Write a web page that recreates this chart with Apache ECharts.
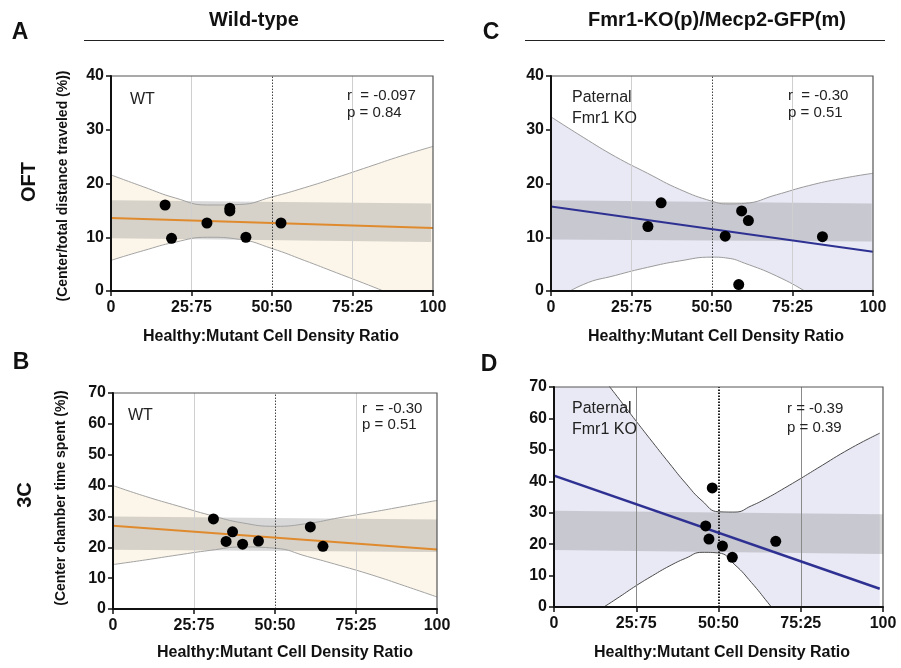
<!DOCTYPE html>
<html><head><meta charset="utf-8">
<script src="https://cdn.jsdelivr.net/npm/echarts@6/dist/echarts.min.js"></script>
<style>html,body{margin:0;padding:0;background:#fff}#c{width:901px;height:668px}</style>
</head><body><div id="c"></div>
<script>
// ---------- DATA ----------
const xTickValues = [0, 25, 50, 75, 100];
const xTickLabels = ['0', '25:75', '50:50', '75:25', '100'];

// Panel A (OFT, Wild-type)
const aPtsX = [16.8, 18.8, 29.8, 36.9, 36.9, 41.9, 52.8];
const aPtsY = [16.0, 9.8, 12.65, 15.4, 14.9, 10.0, 12.65];
const aCiX = [0, 10, 20, 30, 40, 50, 60, 70, 80, 90, 100];
const aCiUp = [21.6, 19.4, 17.3, 16.0, 16.1, 17.5, 19.2, 21.1, 23.1, 25.1, 26.9];
const aCiLo = [5.7, 7.5, 9.1, 10.0, 9.6, 7.9, 5.7, 3.4, 1.1, -1.3, -3.7];
const aFitX = [0, 100];
const aFitY = [13.6, 11.7];
const aBandX = [0, 99.4];
const aBandTop = [16.9, 16.3];
const aBandBot = [9.8, 9.1];

// Panel C (OFT, Fmr1-KO(p)/Mecp2-GFP(m))
const cPtsX = [30.1, 34.2, 54.1, 58.3, 59.2, 61.3, 84.3];
const cPtsY = [12.0, 16.4, 10.2, 1.2, 14.9, 13.1, 10.1];
const cCiX = [0, 10, 20, 30, 40, 50, 55, 60, 70, 80, 90, 100];
const cCiUp = [32.4, 28.6, 25.0, 21.9, 18.9, 16.7, 16.2, 16.3, 17.9, 19.6, 20.9, 21.9];
const cCiLo = [-2.2, 1.2, 2.9, 4.4, 5.6, 6.3, 6.1, 5.2, 2.8, -0.4, -4.0, -7.7];
const cFitX = [0, 100];
const cFitY = [15.7, 7.3];
const cBandX = [0, 99.6];
const cBandTop = [16.9, 16.3];
const cBandBot = [9.6, 9.2];

// Panel B (3C, Wild-type)
const bPtsX = [31.0, 34.9, 36.9, 40.0, 44.9, 60.9, 64.8];
const bPtsY = [29.2, 21.9, 25.0, 21.0, 22.0, 26.6, 20.3];
const bCiX = [0, 10, 20, 30, 40, 50, 60, 70, 80, 90, 100];
const bCiUp = [40.0, 36.5, 33.4, 30.4, 27.9, 26.8, 27.7, 29.6, 31.4, 33.3, 35.2];
const bCiLo = [14.4, 15.9, 17.5, 19.0, 20.1, 19.7, 17.0, 14.1, 11.0, 7.5, 3.9];
const bFitX = [0, 100];
const bFitY = [27.0, 19.3];
const bBandX = [0, 100];
const bBandTop = [30.0, 29.0];
const bBandBot = [19.2, 18.5];

// Panel D (3C, Fmr1-KO(p)/Mecp2-GFP(m))
const dPtsX = [48.1, 46.1, 47.1, 51.2, 54.2, 67.4];
const dPtsY = [37.9, 25.8, 21.6, 19.4, 15.8, 20.9];
const dCiX = [0, 10, 15, 20, 25, 30, 35, 40, 45, 50, 55, 60, 65, 70, 75, 80, 90, 99];
const dCiUp = [93.3, 79.6, 72.7, 65.9, 59.1, 52.4, 45.8, 39.4, 33.8, 30.3, 30.2, 32.2, 34.8, 37.8, 40.9, 44.1, 50.4, 55.3];
const dCiLo = [-9.7, -3.3, -0.1, 3.3, 6.8, 10.0, 13.0, 15.5, 17.4, 17.2, 13.4, 7.8, 1.4, -5.2, -11.9, -18.7, -30.0, -40.0];
const dFitX = [0, 99];
const dFitY = [41.8, 5.8];
const dBandX = [0, 100];
const dBandTop = [30.6, 29.5];
const dBandBot = [18.1, 16.9];

// ---------- STYLE / LAYOUT ----------
const FONT = '"Liberation Sans", Arial, Helvetica, sans-serif';
const zip = (xs, ys) => xs.map((x, i) => [x, ys[i]]);

const panels = [
  {grid:{left:111, top:76, width:322, height:215}, ymax:40, fill:'#fcf6ea', ciColor:'#a3a3a3', fit:'#e08a2e', fitW:2,
   g25:'#cfcfcf', g50:'#444', g50w:1, ptsX:aPtsX, ptsY:aPtsY, ciX:aCiX, ciUp:aCiUp, ciLo:aCiLo, fitX:aFitX, fitY:aFitY,
   bandX:aBandX, bandTop:aBandTop, bandBot:aBandBot},
  {grid:{left:551, top:76, width:322, height:215}, ymax:40, fill:'#e8e9f4', ciColor:'#9a9a9a', fit:'#2e3192', fitW:2,
   g25:'#cfcfcf', g50:'#444', g50w:1, ptsX:cPtsX, ptsY:cPtsY, ciX:cCiX, ciUp:cCiUp, ciLo:cCiLo, fitX:cFitX, fitY:cFitY,
   bandX:cBandX, bandTop:cBandTop, bandBot:cBandBot},
  {grid:{left:113, top:393, width:324, height:216}, ymax:70, fill:'#fcf6ea', ciColor:'#a3a3a3', fit:'#e08a2e', fitW:2,
   g25:'#cfcfcf', g50:'#444', g50w:1, ptsX:bPtsX, ptsY:bPtsY, ciX:bCiX, ciUp:bCiUp, ciLo:bCiLo, fitX:bFitX, fitY:bFitY,
   bandX:bBandX, bandTop:bBandTop, bandBot:bBandBot},
  {grid:{left:554, top:387, width:329, height:220}, ymax:70, fill:'#e8e9f4', ciColor:'#4a4a4a', fit:'#2e3192', fitW:2.5,
   g25:'#8a8a8a', g50:'#222', g50w:2, ptsX:dPtsX, ptsY:dPtsY, ciX:dCiX, ciUp:dCiUp, ciLo:dCiLo, fitX:dFitX, fitY:dFitY,
   bandX:dBandX, bandTop:dBandTop, bandBot:dBandBot}
];

const grids = [], xAxes = [], yAxes = [], series = [];
panels.forEach((p, i) => {
  grids.push(Object.assign({show:true, z:20, borderColor:'#555', borderWidth:1.2, backgroundColor:'transparent'}, p.grid));
  xAxes.push({type:'value', gridIndex:i, min:0, max:100, interval:25, z:21,
    axisLine:{show:true, onZero:false, lineStyle:{color:'#111', width:2}},
    axisTick:{show:true, length:5, lineStyle:{color:'#111', width:1.5}},
    splitLine:{show:false},
    axisLabel:{fontFamily:FONT, fontWeight:'bold', fontSize:16, color:'#111', margin:9,
      formatter:v => { const k = xTickValues.indexOf(v); return k >= 0 ? xTickLabels[k] : ''; }}});
  yAxes.push({type:'value', gridIndex:i, min:0, max:p.ymax, interval:10, z:21,
    axisLine:{show:true, onZero:false, lineStyle:{color:'#111', width:2}},
    axisTick:{show:true, length:5, lineStyle:{color:'#111', width:1.5}},
    splitLine:{show:false},
    axisLabel:{fontFamily:FONT, fontWeight:'bold', fontSize:16, color:'#111', margin:7}});
  // CI fill: upper area (fill colour) then lower area (white) covering below lower curve
  series.push({type:'line', xAxisIndex:i, yAxisIndex:i, z:1, smooth:true, symbol:'none', silent:true,
    data:zip(p.ciX, p.ciUp), lineStyle:{width:0}, areaStyle:{color:p.fill, opacity:1, origin:'start'}});
  series.push({type:'line', xAxisIndex:i, yAxisIndex:i, z:2, smooth:true, symbol:'none', silent:true,
    data:zip(p.ciX, p.ciLo), lineStyle:{width:0}, areaStyle:{color:'#ffffff', opacity:1, origin:'start'}});
  // gray band
  series.push({type:'custom', xAxisIndex:i, yAxisIndex:i, z:3, silent:true,
    data:p.bandX.map((x, k) => [x, p.bandTop[k], p.bandBot[k]]),
    renderItem:(params, api) => {
      if (params.dataIndex !== 0) return null;
      const pts = [];
      p.bandX.forEach((x, k) => pts.push(api.coord([x, p.bandTop[k]])));
      for (let k = p.bandX.length - 1; k >= 0; k--) pts.push(api.coord([p.bandX[k], p.bandBot[k]]));
      return {type:'polygon', shape:{points:pts}, style:{fill:'rgba(125,125,125,0.30)'}};
    }});
  // CI strokes + vertical gridlines
  series.push({type:'line', xAxisIndex:i, yAxisIndex:i, z:4, smooth:true, symbol:'none', silent:true,
    data:zip(p.ciX, p.ciUp), lineStyle:{color:p.ciColor, width:1},
    markLine:{silent:true, symbol:'none', label:{show:false}, animation:false,
      data:[
        {xAxis:25, lineStyle:{color:p.g25, width:1, type:'solid'}},
        {xAxis:50, lineStyle:{color:p.g50, width:p.g50w, type:[1.5, 1.5]}},
        {xAxis:75, lineStyle:{color:p.g25, width:1, type:'solid'}}
      ]}});
  series.push({type:'line', xAxisIndex:i, yAxisIndex:i, z:4, smooth:true, symbol:'none', silent:true,
    data:zip(p.ciX, p.ciLo), lineStyle:{color:p.ciColor, width:1}});
  // regression line
  series.push({type:'line', xAxisIndex:i, yAxisIndex:i, z:5, symbol:'none', silent:true,
    data:zip(p.fitX, p.fitY), lineStyle:{color:p.fit, width:p.fitW}});
  // points
  series.push({type:'scatter', xAxisIndex:i, yAxisIndex:i, z:6, symbolSize:11, silent:true,
    itemStyle:{color:'#000', opacity:1}, data:zip(p.ptsX, p.ptsY)});
});

function txt(x, y, text, size, weight, opts) {
  return Object.assign({type:'text', x:x, y:y, z:30,
    style:{text:text, fill:'#111', font:(weight || 'normal') + ' ' + size + 'px ' + FONT,
      textAlign:'center', textVerticalAlign:'middle'}}, opts || {});
}
function ltxt(x, y, text, size, lh) {
  return {type:'text', x:x, y:y, z:30,
    style:{text:text, fill:'#222', font:'normal ' + size + 'px ' + FONT, textAlign:'left',
      textVerticalAlign:'top', lineHeight:lh}};
}

const graphics = [
  txt(254, 20, 'Wild-type', 20, 'bold'),
  {type:'rect', z:30, shape:{x:84, y:40, width:360, height:1}, style:{fill:'#222'}},
  txt(717, 20, 'Fmr1-KO(p)/Mecp2-GFP(m)', 20, 'bold'),
  {type:'rect', z:30, shape:{x:525, y:40, width:360, height:1}, style:{fill:'#222'}},
  txt(20, 33, 'A', 23, 'bold'),
  txt(491, 33, 'C', 23, 'bold'),
  txt(21, 363, 'B', 23, 'bold'),
  txt(489, 365, 'D', 23, 'bold'),
  txt(29, 182, 'OFT', 20, 'bold', {rotation:Math.PI / 2}),
  txt(25, 495, '3C', 20, 'bold', {rotation:Math.PI / 2}),
  txt(63, 186, '(Center/total distance traveled (%))', 14, 'bold', {rotation:Math.PI / 2}),
  txt(61, 498, '(Center chamber time spent (%))', 14, 'bold', {rotation:Math.PI / 2}),
  txt(271, 337, 'Healthy:Mutant Cell Density Ratio', 16, 'bold'),
  txt(716, 337, 'Healthy:Mutant Cell Density Ratio', 16, 'bold'),
  txt(285, 653, 'Healthy:Mutant Cell Density Ratio', 16, 'bold'),
  txt(722, 653, 'Healthy:Mutant Cell Density Ratio', 16, 'bold'),
  ltxt(130, 90, 'WT', 16, 20),
  ltxt(347, 87, 'r  = -0.097\np = 0.84', 15, 17),
  ltxt(572, 87, 'Paternal\nFmr1 KO', 16, 21),
  ltxt(788, 87, 'r  = -0.30\np = 0.51', 15, 17),
  ltxt(128, 406, 'WT', 16, 20),
  ltxt(362, 401, 'r  = -0.30\np = 0.51', 15, 16),
  ltxt(572, 398, 'Paternal\nFmr1 KO', 16, 21),
  ltxt(787, 399, 'r = -0.39\np = 0.39', 15, 19)
];

const chart = echarts.init(document.getElementById('c'), null, {renderer:'canvas'});
chart.setOption({animation:false, backgroundColor:'#fff', grid:grids, xAxis:xAxes, yAxis:yAxes,
  series:series, graphic:graphics});
</script></body></html>
